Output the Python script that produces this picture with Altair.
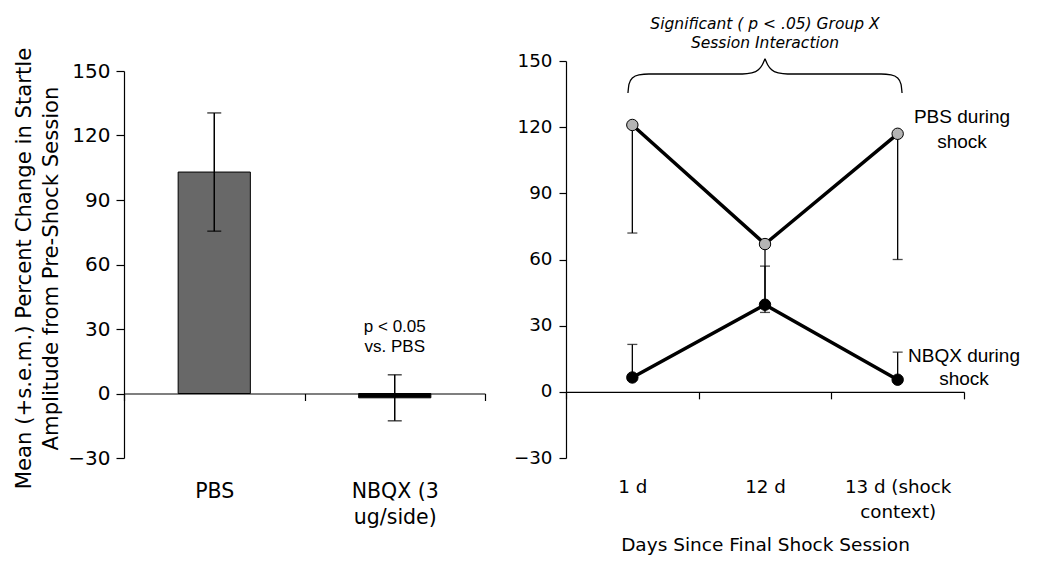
import altair as alt
import pandas as pd

FONT = "DejaVu Sans"
ARIAL = "Liberation Sans"

# ---------------- data: left panel ----------------
groups = ["PBS", "NBQX (3|ug/side)"]
group_means = [103, -2]
group_err_low = [75.5, -12.7]
group_err_high = [130.5, 8.7]
group_colors = ["#686868", "#000000"]

# ---------------- data: right panel ----------------
days = ["1 d", "12 d", "13 d (shock|context)"]
series_names = ["PBS", "NBQX"]
series_fill = ["#b4b4b4", "#000000"]
pbs_means = [121, 67, 117]
pbs_err_end = [72, 36, 60]
nbqx_means = [6.5, 39.5, 5.5]
nbqx_err_end = [21.5, 57, 18]

y_ticks = [-30, 0, 30, 60, 90, 120, 150]

left_title = ["Mean (+s.e.m.) Percent Change in Startle", "Amplitude from Pre-Shock Session"]
sig_note = "p < 0.05\nvs. PBS"
sig_note_y = 30.7

right_title = ["Significant ( p < .05) Group X", "Session Interaction"]
right_title_x = [1.5, 1.5]
right_title_y = [166.8, 158.2]
right_x_title = "Days Since Final Shock Session"

# brace annotation (left half, in day-axis units 0..3 and y units); right half is its mirror
brace_half_x = [0.467, 0.475, 0.50, 0.55, 0.625, 1.33, 1.40, 1.45, 1.48, 1.5]
brace_half_y = [135.5, 139.5, 142.3, 143.7, 144.1, 144.1, 144.6, 146.0, 148.3, 151.0]

series_label_text = ["PBS during", "shock", "NBQX during", "shock"]
series_label_x = [2.985, 2.985, 3.0, 3.0]
series_label_y = [124.5, 113.5, 16.4, 5.8]

# ---------------- left chart ----------------
left_df = pd.DataFrame({
    "group": groups,
    "mean": group_means,
    "lo": group_err_low,
    "hi": group_err_high,
    "color": group_colors,
})
note_df = pd.DataFrame({"group": [groups[1]], "mean": [sig_note_y], "text": [sig_note]})

x_left = alt.X(
    "group:N", sort=groups,
    scale=alt.Scale(paddingInner=0, paddingOuter=0),
    axis=alt.Axis(title=None, labelAngle=0, labelExpr="split(datum.label, '|')",
                  labelFontSize=20.5, labelLineHeight=25.5, labelPadding=81,
                  tickBand="extent", tickSize=7, offset=-64.5),
)
x_left_plain = alt.X("group:N", sort=groups)
y_left = alt.Y(
    "mean:Q",
    scale=alt.Scale(domain=[-30, 150], range=[397, 10], nice=False, zero=False),
    axis=alt.Axis(values=y_ticks, title=left_title, titleFontSize=21.2,
                  titleFontWeight="normal", titleLineHeight=27, titlePadding=6, titleY=207,
                  labelFontSize=20, labelPadding=6, tickSize=8),
)

bars = alt.Chart(left_df).mark_bar(
    width=alt.RelativeBandSize(0.4), stroke="black", strokeWidth=1
).encode(x=x_left, y=y_left, y2=alt.datum(0), color=alt.Color("color:N", scale=None))

err_left = alt.Chart(left_df).mark_rule(color="black", strokeWidth=1.5).encode(
    x=x_left_plain, y="lo:Q", y2="hi:Q")
cap_lo_left = alt.Chart(left_df).mark_tick(color="black", size=14, thickness=1.5).encode(
    x=x_left_plain, y="lo:Q")
cap_hi_left = alt.Chart(left_df).mark_tick(color="black", size=14, thickness=1.5).encode(
    x=x_left_plain, y="hi:Q")
note = alt.Chart(note_df).mark_text(
    font=ARIAL, fontSize=17, lineBreak="\n", lineHeight=20,
    baseline="middle", align="center", color="black"
).encode(x=x_left_plain, y="mean:Q", text="text:N")

left = alt.layer(bars, err_left, cap_lo_left, cap_hi_left, note).properties(width=361, height=397)

# ---------------- right chart ----------------
rows = []
for i, d in enumerate(days):
    rows.append({"day": d, "series": "PBS", "mean": pbs_means[i], "err": pbs_err_end[i]})
    rows.append({"day": d, "series": "NBQX", "mean": nbqx_means[i], "err": nbqx_err_end[i]})
right_df = pd.DataFrame(rows)

x_right = alt.X(
    "day:N", sort=days,
    scale=alt.Scale(type="band", paddingInner=0, paddingOuter=0),
    axis=alt.Axis(title=right_x_title, labelAngle=0, labelExpr="split(datum.label, '|')",
                  labelFontSize=18.3, labelLineHeight=25, labelPadding=80,
                  tickBand="extent", tickSize=7, offset=-66.17,
                  titleFontSize=18.5, titleFontWeight="normal", titlePadding=14),
)
x_right_plain = alt.X("day:N", sort=days)
y_right = alt.Y(
    "mean:Q",
    scale=alt.Scale(domain=[-30, 150], nice=False, zero=False),
    axis=alt.Axis(values=y_ticks, title=None, labelFontSize=18.3, labelPadding=7, tickSize=7),
)

err_right = alt.Chart(right_df).mark_rule(color="black", strokeWidth=1.3).encode(
    x=x_right, y=y_right, y2="err:Q")
lines = alt.Chart(right_df).mark_line(color="black", strokeWidth=3.5).encode(
    x=x_right_plain, y="mean:Q", detail="series:N")
caps_right = alt.Chart(right_df).mark_tick(color="black", size=10, thickness=1.3).encode(
    x=x_right_plain, y="err:Q")
points = alt.Chart(right_df).mark_circle(size=130, stroke="black", strokeWidth=1, opacity=1).encode(
    x=x_right_plain, y="mean:Q",
    fill=alt.Fill("series:N", scale=alt.Scale(domain=series_names, range=series_fill), legend=None))

main_right = alt.layer(err_right, lines, caps_right, points)

brace_df = pd.DataFrame({
    "bx": brace_half_x + [3 - v for v in brace_half_x],
    "mean": brace_half_y + brace_half_y,
    "side": ["left"] * len(brace_half_x) + ["right"] * len(brace_half_x),
})
lab_df = pd.DataFrame({"bx": series_label_x, "mean": series_label_y, "text": series_label_text})
title_df = pd.DataFrame({"bx": right_title_x, "mean": right_title_y, "text": right_title})

x_q = alt.X("bx:Q", scale=alt.Scale(domain=[0, 3], nice=False, zero=False), axis=None)
brace = alt.Chart(brace_df).mark_line(color="black", strokeWidth=1.3, interpolate="monotone").encode(
    x=x_q, y="mean:Q", detail="side:N")
labels = alt.Chart(lab_df).mark_text(
    font=ARIAL, fontSize=19, align="center", baseline="middle", color="black"
).encode(x=alt.X("bx:Q"), y="mean:Q", text="text:N")
title_text = alt.Chart(title_df).mark_text(
    font=FONT, fontSize=15.5, fontStyle="italic", align="center", baseline="middle", color="black"
).encode(x=alt.X("bx:Q"), y="mean:Q", text="text:N")
annot = alt.layer(brace, labels, title_text)

right = alt.layer(main_right, annot).resolve_scale(x="independent").properties(
    width=398, height=397,
)

chart = alt.hconcat(left, right, spacing=27).properties(
    padding={"left": 5, "top": 8, "right": 5, "bottom": 2}
).configure_view(stroke=None).configure_axis(
    grid=False, domainColor="black", tickColor="black", labelColor="black",
    titleColor="black", labelFont=FONT, titleFont=FONT, domainWidth=1.2, tickWidth=1.2,
)

chart.save("out.html", embed_options={"renderer": "svg", "actions": False})
